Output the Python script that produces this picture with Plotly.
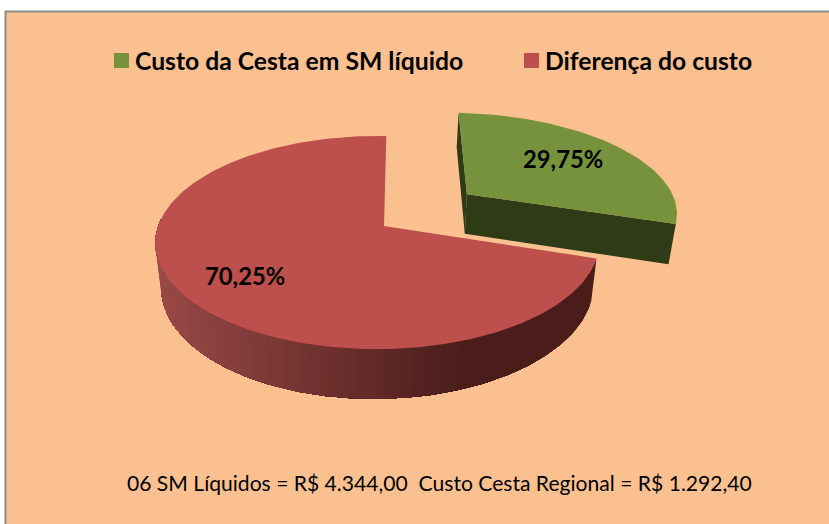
import numpy as np
import plotly.graph_objects as go

categories = ["Custo da Cesta em SM líquido", "Diferença do custo"]
shares = [29.75, 70.25]
footer = "06 SM Líquidos = R$ 4.344,00  Custo Cesta Regional = R$ 1.292,40"

FACE = ["#76923c", "#bd4f4c"]
GREEN_SIDE = "#2f3a17"
BG = "#fac090"
W, H = 829, 524
CX, CY = 384, 226
RX, RY, KV, KU, DEPTH, SHRINK = 219, 104, 0.155, 0.03, 42, 0.975
START = 0.7
PULL = (0.402, 0.325)
GREEN_RU, GREEN_RV = 1.04, 1.0


def project(u, v, bottom=False):
    d = 1 + KV * v + KU * u
    x, y = RX * u / d, -RY * v / d
    if bottom:
        x, y = x * SHRINK, (y + DEPTH / d)
    return CX + x, CY + y


def arc(a0, a1, n=80):
    t = np.radians(np.linspace(a0, a1, n))
    return np.sin(t), np.cos(t)


def poly(fig, x, y, color):
    fig.add_trace(go.Scatter(x=list(x), y=list(y), mode="lines", fill="toself",
                             fillcolor=color, line=dict(color=color, width=0),
                             hoverinfo="skip", showlegend=False))


def lerp(c0, c1, t):
    return "rgb(%d,%d,%d)" % tuple(int(a + (b - a) * t) for a, b in zip(c0, c1))


fig = go.Figure()
green_end = START + shares[0] * 3.6

# green slice
gu, gv = arc(START, green_end)
gu, gv = GREEN_RU * gu + PULL[0], GREEN_RV * gv + PULL[1]
ax, ay = project(PULL[0], PULL[1])
bx, by = project(PULL[0], PULL[1], True)
sx, sy = project(gu[0], gv[0], True)
poly(fig, [ax, bx, sx, project(gu[0], gv[0])[0]], [ay, by, sy, project(gu[0], gv[0])[1]], GREEN_SIDE)
ex, ey = project(gu[-1], gv[-1])
fx, fy = project(gu[-1], gv[-1], True)
poly(fig, [ax, bx, fx, ex], [ay, by, fy, ey], GREEN_SIDE)
tx, ty = project(gu, gv)
poly(fig, [ax, *tx], [ay, *ty], FACE[0])

# red slice wall, shaded along the rim; each band runs to the wall's far end so no seams show
ru, rv = arc(green_end, 360 + START, 240)
keep = rv < 0.08
wu, wv = ru[keep], rv[keep]
order = wu.argsort()[::-1]
wu, wv = wu[order], wv[order]
for i in range(0, len(wu) - 1, 2):
    x0, y0 = project(wu[i:], wv[i:])
    x1, y1 = project(wu[i:], wv[i:], True)
    t = min(max((x0[0] - 156) / (470 - 156), 0), 1)
    col = lerp((154, 74, 71), (74, 29, 27), t)
    poly(fig, [*x0, *x1[::-1]], [*y0, *y1[::-1]], col)
tx, ty = project(ru, rv)
ax, ay = project(0, 0)
poly(fig, [ax, *tx], [ay, *ty], FACE[1])

shapes = [dict(type="rect", xref="x", yref="y", x0=5.5, y0=11.5, x1=W + 5, y1=H + 5,
               fillcolor=BG, line=dict(color="#8c8c8c", width=2), layer="below")]
for x0, c in zip([114, 524], FACE):
    shapes.append(dict(type="rect", xref="x", yref="y", x0=x0, x1=x0 + 15, y0=53, y1=68,
                       fillcolor=c, line=dict(width=0), layer="below"))

FONT = "Lato, Carlito, Calibri, sans-serif"
ann = []
for x, t in zip([133, 543], categories):
    ann.append(dict(x=x, y=60, text=f"<b>{t}</b>", xanchor="left", yanchor="middle",
                    showarrow=False, font=dict(family=FONT, size=24.7, color="black")))
for (x, y), v in zip([(563, 159), (245, 276)], shares):
    ann.append(dict(x=x, y=y, text="<b>" + f"{v:.2f}%".replace(".", ",") + "</b>",
                    showarrow=False, font=dict(family=FONT, size=23.8, color="black")))
ann.append(dict(x=439.5, y=482, text=footer, showarrow=False,
                font=dict(family=FONT, size=21.1, color="black")))

fig.update_layout(
    width=W, height=H, autosize=False, margin=dict(l=0, r=0, t=0, b=0),
    paper_bgcolor="white", plot_bgcolor="white", showlegend=False,
    xaxis=dict(range=[0, W], visible=False, fixedrange=True),
    yaxis=dict(range=[H, 0], visible=False, fixedrange=True),
    shapes=shapes, annotations=ann,
)
fig.write_html("out.html", config=dict(displayModeBar=False),
               post_script="document.body.style.margin='0';document.body.style.overflow='hidden';")
